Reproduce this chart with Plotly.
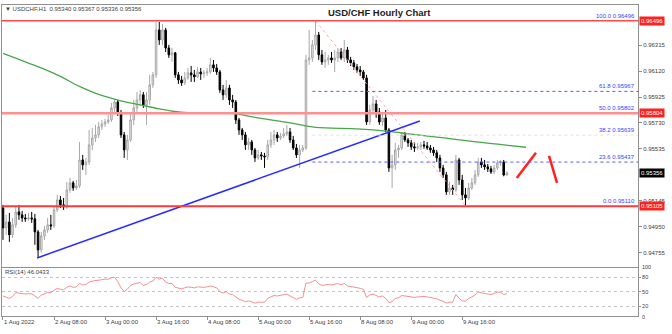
import numpy as np
import plotly.graph_objects as go

# ---------------- data (prices in points, i.e. price * 1e5) ----------------
x_tick_index = [0, 16, 32, 48, 64, 80, 96, 112, 128, 144]
x_tick_labels = ["1 Aug 2022", "2 Aug 08:00", "3 Aug 00:00", "3 Aug 16:00", "4 Aug 08:00",
                 "5 Aug 00:00", "5 Aug 16:00", "8 Aug 08:00", "9 Aug 00:00", "9 Aug 16:00"]

open_pts = [
    95093, 94943, 94988, 94891, 94966, 95063, 95041, 95018, 95011, 95018,
    95011, 94913, 94778, 94883, 94928, 94966, 94958, 95078, 95153, 95116,
    95101, 95228, 95281, 95243, 95258, 95453, 95416, 95438, 95566, 95618,
    95641, 95701, 95723, 95738, 95753, 95843, 95888, 95806, 95641, 95528,
    95603, 95753, 95843, 95903, 95941, 95866, 95903, 96016, 96091, 96428,
    96353, 96428, 96293, 96241, 96256, 96091, 96053, 96031, 96068, 96106,
    96091, 96076, 96113, 96098, 96106, 96113, 96166, 96143, 96113, 95978,
    95941, 95993, 95903, 95888, 95753, 95678, 95641, 95566, 95588, 95528,
    95468, 95491, 95483, 95476, 95566, 95603, 95641, 95618, 95633, 95648,
    95663, 95603, 95543, 95491, 95528, 95543, 96203, 96218, 96316, 96390,
    96241, 96188, 96203, 96218, 96203, 96218, 96263, 96218, 96278, 96203,
    96181, 96151, 96128, 96113, 96068, 95738, 95828, 95873, 95813, 95738,
    95768, 95678, 95393, 95416, 95528, 95543, 95641, 95603, 95581, 95551,
    95543, 95551, 95566, 95558, 95543, 95528, 95506, 95468, 95393, 95341,
    95213, 95243, 95228, 95453, 95303, 95191, 95168, 95243, 95281, 95341,
    95438, 95416, 95401, 95386, 95363, 95393, 95431, 95438, 95340]

close_pts = [
    94943, 94988, 94891, 94966, 95063, 95041, 95018, 95011, 95018, 95011,
    94913, 94778, 94883, 94928, 94966, 94958, 95078, 95153, 95116, 95101,
    95228, 95281, 95243, 95258, 95453, 95416, 95438, 95566, 95618, 95641,
    95701, 95723, 95738, 95753, 95843, 95888, 95806, 95641, 95528, 95603,
    95753, 95843, 95903, 95941, 95866, 95903, 96016, 96091, 96428, 96353,
    96428, 96293, 96241, 96256, 96091, 96053, 96031, 96068, 96106, 96091,
    96076, 96113, 96098, 96106, 96113, 96166, 96143, 96113, 95978, 95941,
    95993, 95903, 95888, 95753, 95678, 95641, 95566, 95588, 95528, 95468,
    95491, 95483, 95476, 95566, 95603, 95641, 95618, 95633, 95648, 95663,
    95603, 95543, 95491, 95528, 95543, 96203, 96218, 96316, 96390, 96241,
    96188, 96203, 96218, 96203, 96218, 96263, 96218, 96278, 96203, 96181,
    96151, 96128, 96113, 96068, 95738, 95828, 95873, 95813, 95738, 95768,
    95678, 95393, 95416, 95528, 95543, 95641, 95603, 95581, 95551, 95543,
    95551, 95566, 95558, 95543, 95528, 95506, 95468, 95393, 95341, 95213,
    95243, 95228, 95453, 95303, 95191, 95168, 95243, 95281, 95341, 95438,
    95416, 95401, 95386, 95363, 95393, 95431, 95438, 95340, 95356]

high_pts = [
    95116, 95041, 95056, 95018, 95108, 95116, 95071, 95048, 95056, 95063,
    95048, 94928, 94913, 94958, 95018, 95041, 95101, 95191, 95183, 95168,
    95288, 95318, 95296, 95303, 95588, 95491, 95468, 95678, 95693, 95716,
    95738, 95753, 95761, 95791, 95881, 95903, 95903, 95828, 95663, 95641,
    95813, 95903, 95963, 95978, 95963, 95963, 96091, 96113, 96490, 96488,
    96473, 96443, 96316, 96293, 96263, 96113, 96083, 96113, 96143, 96158,
    96128, 96151, 96143, 96128, 96143, 96218, 96203, 96173, 96128, 96016,
    96053, 96016, 95941, 95903, 95768, 95693, 95663, 95618, 95603, 95543,
    95528, 95513, 95506, 95603, 95663, 95678, 95663, 95656, 95693, 95716,
    95693, 95633, 95573, 95566, 95566, 96241, 96428, 96353, 96496, 96413,
    96278, 96263, 96241, 96263, 96278, 96293, 96293, 96353, 96301, 96226,
    96203, 96173, 96158, 96128, 96091, 95866, 95933, 95903, 95843, 95813,
    95828, 95693, 95491, 95581, 95566, 95663, 95663, 95618, 95603, 95588,
    95581, 95588, 95596, 95588, 95566, 95551, 95528, 95491, 95416, 95363,
    95288, 95266, 95491, 95468, 95341, 95243, 95281, 95318, 95378, 95468,
    95468, 95453, 95423, 95408, 95416, 95453, 95453, 95453, 95367]

low_pts = [
    94853, 94891, 94838, 94868, 94943, 95003, 94988, 94988, 94996, 94981,
    94816, 94718, 94756, 94853, 94906, 94928, 94943, 95063, 95093, 95078,
    95086, 95206, 95221, 95228, 95243, 95378, 95341, 95416, 95528, 95588,
    95618, 95678, 95701, 95723, 95738, 95813, 95783, 95618, 95468, 95453,
    95588, 95716, 95813, 95866, 95843, 95716, 95866, 95993, 96068, 96316,
    96316, 96263, 96218, 96188, 96068, 96023, 96008, 96016, 96053, 96038,
    96038, 96068, 96053, 96068, 96083, 96098, 96113, 96091, 95956, 95903,
    95918, 95866, 95843, 95723, 95641, 95603, 95528, 95528, 95491, 95438,
    95453, 95453, 95393, 95453, 95543, 95566, 95588, 95603, 95618, 95633,
    95581, 95528, 95468, 95393, 95513, 95528, 96166, 96188, 96278, 96203,
    96166, 96143, 96166, 96181, 96113, 96188, 96203, 96188, 96181, 96158,
    96128, 96106, 96083, 96053, 95716, 95716, 95806, 95768, 95716, 95708,
    95663, 95363, 95243, 95378, 95468, 95528, 95588, 95551, 95528, 95513,
    95528, 95528, 95536, 95528, 95506, 95483, 95438, 95363, 95318, 95191,
    95191, 95191, 95213, 95266, 95153, 95110, 95153, 95228, 95266, 95326,
    95393, 95378, 95363, 95348, 95348, 95378, 95408, 95330, 95336]

rsi_values = [
    41, 38, 36, 40, 48, 47, 46, 45, 46, 45,
    41, 36, 43, 46, 48, 48, 53, 57, 55, 54,
    59, 62, 59, 60, 67, 64, 65, 70, 72, 73,
    75, 75, 76, 76, 79, 80, 71, 58, 50, 55,
    63, 66, 68, 69, 63, 65, 70, 72, 80, 76,
    78, 70, 67, 67, 59, 57, 56, 58, 60, 59,
    58, 60, 59, 59, 60, 62, 60, 58, 50, 47,
    50, 45, 44, 38, 34, 32, 29, 31, 28, 26,
    28, 28, 28, 36, 39, 42, 41, 42, 43, 45,
    41, 37, 34, 37, 38, 68, 68, 71, 74, 66,
    63, 64, 65, 64, 65, 67, 64, 67, 62, 61,
    59, 58, 57, 55, 38, 43, 45, 42, 39, 41,
    36, 27, 29, 36, 37, 42, 41, 40, 38, 38,
    39, 40, 40, 39, 38, 37, 35, 32, 30, 26,
    28, 28, 44, 36, 31, 30, 36, 39, 43, 49,
    47, 46, 45, 44, 46, 49, 49, 44, 46.0433]

# moving average read at sample bars
sma_index = [0, 5, 12, 18, 24, 30, 37, 43, 49, 55, 60, 72, 80, 90, 98, 111, 121, 128, 139, 149, 157, 164]
sma_pts = [96252, 96207, 96143, 96079, 96004, 95944, 95896, 95866, 95836, 95813, 95806,
           95802, 95768, 95731, 95697, 95686, 95667, 95646, 95616, 95586, 95566, 95548]

# drawn objects
trend_index = [10.7, 130.7]
trend_price = [0.94718, 0.95745]
fib_index = [98, 145]
fib_price = [0.96496, 0.95110]
fib_levels = [0.96496, 0.95967, 0.95802, 0.95639, 0.95437, 0.95110]
fib_names = ["100.0", "61.8", "50.0", "38.2", "23.6", "0.0"]
fib_labels_text = ["0.96496", "0.95967", "0.95802", "0.95639", "0.95437", "0.95110"]
red_levels = [0.96496, 0.95804, 0.95105]
red_level_labels = ["0.96496", "0.95804", "0.95105"]
current_price = 0.95356
price_ticks = [0.96315, 0.96120, 0.95925, 0.95730, 0.95535, 0.95145, 0.94950, 0.94755]
slash1_index = [161.1, 167.1]
slash1_price = [0.95318, 0.95506]
slash2_index = [171.2, 173.7]
slash2_price = [0.95483, 0.95281]

# ---------------- figure ----------------
idx = list(range(len(close_pts)))
o = np.array(open_pts) / 1e5
h = np.array(high_pts) / 1e5
l = np.array(low_pts) / 1e5
c = np.array(close_pts) / 1e5
sma = np.array(sma_pts) / 1e5

FONT = "Liberation Sans"
XR = [-0.31, 199.1]

fig = go.Figure()

fig.add_trace(go.Scatter(x=sma_index, y=sma, mode="lines", xaxis="x", yaxis="y",
                         line=dict(color="#4aa64a", width=1.3, shape="spline"),
                         hoverinfo="skip", showlegend=False))

fig.add_trace(go.Candlestick(x=idx, open=o, high=h, low=l, close=c, xaxis="x", yaxis="y",
                             increasing=dict(line=dict(color="#a8a8a8", width=1), fillcolor="#ececec"),
                             decreasing=dict(line=dict(color="#000000", width=1), fillcolor="#000000"),
                             whiskerwidth=0, hoverinfo="skip", showlegend=False))

fig.add_trace(go.Scatter(x=trend_index, y=trend_price, mode="lines", xaxis="x", yaxis="y",
                         line=dict(color="#2a2aff", width=1.5), hoverinfo="skip", showlegend=False))
fig.add_trace(go.Scatter(x=fib_index, y=fib_price, mode="lines", xaxis="x", yaxis="y",
                         line=dict(color="#ffa8a8", width=1, dash="dot"), hoverinfo="skip", showlegend=False))
for sx, sy in [(slash1_index, slash1_price), (slash2_index, slash2_price)]:
    fig.add_trace(go.Scatter(x=sx, y=sy, mode="lines", xaxis="x", yaxis="y",
                             line=dict(color="#ff2020", width=2.5), hoverinfo="skip", showlegend=False))

fig.add_trace(go.Scatter(x=idx, y=rsi_values, mode="lines", xaxis="x2", yaxis="y2",
                         line=dict(color="#f39090", width=1), hoverinfo="skip", showlegend=False))

shapes = []
red_styles = [("#ff4a4a", 1.5), ("#ff9090", 2.5), ("#ff3a3a", 2)]
for lv, (col, w) in zip(red_levels, red_styles):
    shapes.append(dict(type="line", xref="paper", yref="y", x0=0, x1=1, y0=lv, y1=lv,
                       line=dict(color=col, width=w)))
fib_styles = {"61.8": ("#5a5aff", 1), "23.6": ("#5a5aff", 1), "38.2": ("#e0e0e0", 1)}
for name, lv in zip(fib_names, fib_levels):
    if name in fib_styles:
        col, w = fib_styles[name]
        shapes.append(dict(type="line", xref="x", yref="y", x0=fib_index[0] - 1, x1=XR[1], y0=lv, y1=lv,
                           line=dict(color=col, width=w, dash="dot")))

ann = []
small = dict(family=FONT, size=6, color="#404040")
for lv, txt in zip(red_levels, red_level_labels):
    ann.append(dict(xref="paper", yref="y", x=1, y=lv, xanchor="left", yanchor="middle", xshift=1,
                    text=txt, showarrow=False, bgcolor="#ff2020", borderpad=1,
                    font=dict(family=FONT, size=6, color="white")))
ann.append(dict(xref="paper", yref="y", x=1, y=current_price, xanchor="left", yanchor="middle", xshift=1,
                text=f"{current_price:.5f}", showarrow=False, bgcolor="#000000", borderpad=1,
                font=dict(family=FONT, size=6, color="white")))
for name, lv, txt in zip(fib_names, fib_levels, fib_labels_text):
    ann.append(dict(xref="paper", yref="y", x=1, y=lv, xanchor="right", yanchor="bottom", xshift=-1,
                    text=f"{name} {txt}", showarrow=False,
                    font=dict(family=FONT, size=6, color="#3c3cff")))
for ti, tl in zip(x_tick_index, x_tick_labels):
    ann.append(dict(xref="x2", yref="paper", x=ti, y=0, xanchor="left", yanchor="top", xshift=-1, yshift=-1,
                    text=tl, showarrow=False, font=small))
ann.append(dict(xref="paper", yref="paper", x=0.002, y=0.987, xanchor="left", yanchor="middle",
                text="▼ USDCHF,H1  0.95340 0.95367 0.95336 0.95356", showarrow=False, font=small))
ann.append(dict(xref="paper", yref="paper", x=0.593, y=0.977, xanchor="center", yanchor="middle",
                text="<b>USD/CHF Hourly Chart</b>", showarrow=False,
                font=dict(family=FONT, size=9.5, color="#222222")))
ann.append(dict(xref="paper", yref="paper", x=0.002, y=0.1415, xanchor="left", yanchor="middle",
                text=f"RSI(14) {rsi_values[-1]:.4f}", showarrow=False, font=small))
ann.append(dict(xref="paper", yref="y2", x=1, y=100, xanchor="left", yanchor="middle", xshift=2, yshift=1,
                text="100", showarrow=False, font=dict(family=FONT, size=5.5, color="#404040")))
ann.append(dict(xref="paper", yref="y2", x=1, y=0, xanchor="left", yanchor="middle", xshift=2, yshift=-1,
                text="0", showarrow=False, font=dict(family=FONT, size=5.5, color="#404040")))

axis_line = "#909090"
fig.update_layout(
    width=672, height=334,
    margin=dict(l=2, r=34, t=5, b=18),
    paper_bgcolor="white", plot_bgcolor="white",
    showlegend=False,
    shapes=shapes, annotations=ann,
    xaxis=dict(domain=[0, 1], range=XR, anchor="y", showticklabels=False, showgrid=False,
               zeroline=False, showline=True, mirror=True, linecolor=axis_line,
               rangeslider=dict(visible=False), fixedrange=True),
    yaxis=dict(domain=[0.1576, 1], range=[0.94650, 0.96615], side="right", anchor="x",
               tickvals=price_ticks, ticktext=[f"{p:.5f}" for p in price_ticks],
               tickfont=small, ticks="outside", ticklen=3, tickcolor=axis_line,
               showgrid=False, zeroline=False, showline=True, mirror=True, linecolor=axis_line,
               fixedrange=True),
    xaxis2=dict(domain=[0, 1], range=XR, anchor="y2", tickvals=x_tick_index, ticks="outside",
                ticklen=3, tickcolor=axis_line, showticklabels=False, showgrid=False,
                zeroline=False, showline=True, mirror=True, linecolor=axis_line, fixedrange=True),
    yaxis2=dict(domain=[0.0013, 0.1553], range=[0, 100], side="right", anchor="x2",
                tickvals=[20, 50, 80], ticktext=["20", "50", "80"],
                tickfont=dict(family=FONT, size=5.5, color="#404040"),
                ticks="outside", ticklen=2, tickcolor=axis_line,
                showgrid=True, gridcolor="#c4c4c4", griddash="dot", gridwidth=1,
                zeroline=False, showline=True, mirror=True, linecolor=axis_line, fixedrange=True),
)

fig.write_html("out.html", config={"displayModeBar": False})
